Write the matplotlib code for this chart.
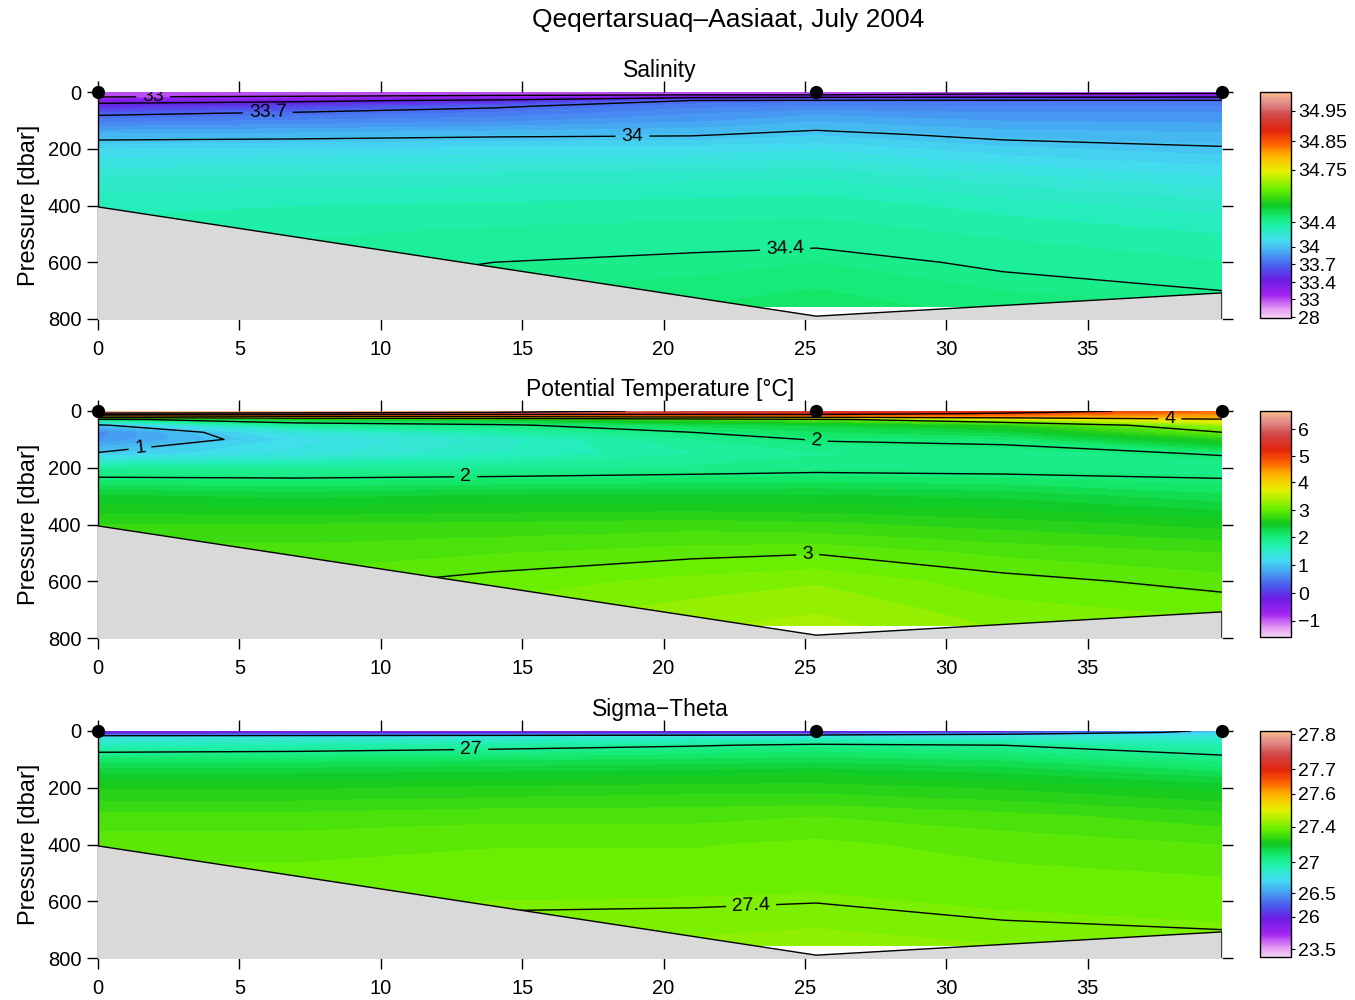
import numpy as np
import matplotlib
matplotlib.use('Agg')
import matplotlib.pyplot as plt
from matplotlib.colors import LinearSegmentedColormap, FuncNorm
from matplotlib.cm import ScalarMappable
from matplotlib.ticker import FuncFormatter

plt.rcParams['font.family'] = ['Liberation Sans', 'DejaVu Sans']

# section geometry
dist = [0, 7, 14, 21, 25.4, 32, 39.75]          # km along section
pres = [0, 5, 10, 20, 30, 50, 75, 100, 150, 200, 300, 400, 500, 600, 700, 757]
stations = [0, 25.4, 39.75]
bottom_dist = [0, 25.4, 39.75]
bottom_pres = [405, 790, 708]

# salinity, one profile per distance
sal = [
    [32.5, 32.7, 32.85, 33.05, 33.3, 33.5, 33.67, 33.77, 33.95, 34.08, 34.22, 34.3, 34.33, 34.36, 34.38, 34.40],
    [32.6, 32.75, 32.9, 33.1, 33.35, 33.58, 33.72, 33.8, 33.96, 34.09, 34.23, 34.31, 34.35, 34.38, 34.40, 34.41],
    [32.7, 32.85, 32.95, 33.2, 33.45, 33.68, 33.76, 33.83, 33.98, 34.1, 34.24, 34.32, 34.37, 34.4, 34.42, 34.43],
    [32.8, 32.9, 33.0, 33.4, 33.7, 33.78, 33.84, 33.88, 33.99, 34.1, 34.25, 34.33, 34.38, 34.41, 34.43, 34.44],
    [32.8, 32.9, 33.0, 33.45, 33.72, 33.8, 33.88, 33.93, 34.03, 34.12, 34.26, 34.34, 34.38, 34.42, 34.44, 34.45],
    [32.85, 32.95, 33.1, 33.45, 33.72, 33.8, 33.85, 33.89, 33.97, 34.05, 34.19, 34.29, 34.35, 34.39, 34.42, 34.43],
    [32.9, 33.0, 33.2, 33.45, 33.72, 33.8, 33.85, 33.88, 33.95, 34.01, 34.13, 34.24, 34.31, 34.36, 34.4, 34.42],
]

# potential temperature
temp = [
    [6.65, 6.5, 5.4, 3.5, 1.9, 0.95, 0.6, 0.65, 1.03, 1.8, 2.4, 2.7, 2.85, 2.95, 3.0, 3.05],
    [6.6, 6.3, 5.3, 3.8, 2.3, 1.8, 1.35, 1.2, 1.3, 1.8, 2.35, 2.7, 2.85, 2.95, 3.0, 3.05],
    [6.4, 6.0, 5.3, 4.0, 2.4, 1.95, 1.7, 1.5, 1.55, 1.82, 2.4, 2.72, 2.9, 3.05, 3.15, 3.2],
    [5.8, 5.6, 5.2, 4.2, 2.7, 2.2, 2.0, 1.85, 1.75, 1.88, 2.4, 2.75, 2.96, 3.15, 3.25, 3.3],
    [5.6, 5.4, 5.2, 4.3, 2.9, 2.3, 2.15, 2.02, 1.85, 1.92, 2.4, 2.72, 2.99, 3.2, 3.3, 3.35],
    [5.3, 5.1, 4.9, 4.4, 3.4, 2.6, 2.3, 2.06, 1.9, 1.9, 2.35, 2.65, 2.88, 3.05, 3.15, 3.2],
    [4.7, 4.6, 4.5, 4.3, 3.95, 3.3, 3.0, 2.6, 2.02, 1.88, 2.2, 2.55, 2.8, 2.95, 3.08, 3.15],
]

# sigma-theta
sig = [
    [25.4, 25.6, 26.1, 26.7, 26.8, 26.9, 27.0, 27.08, 27.17, 27.23, 27.31, 27.35, 27.37, 27.39, 27.4, 27.41],
    [25.5, 25.7, 26.15, 26.72, 26.82, 26.93, 27.01, 27.09, 27.17, 27.23, 27.31, 27.35, 27.37, 27.39, 27.41, 27.42],
    [25.5, 25.7, 26.2, 26.74, 26.85, 26.96, 27.03, 27.1, 27.18, 27.24, 27.32, 27.36, 27.38, 27.395, 27.41, 27.42],
    [25.6, 25.8, 26.25, 26.76, 26.88, 26.99, 27.06, 27.11, 27.19, 27.25, 27.32, 27.36, 27.38, 27.397, 27.41, 27.42],
    [25.6, 25.8, 26.3, 26.78, 26.9, 27.02, 27.08, 27.12, 27.2, 27.25, 27.33, 27.37, 27.385, 27.399, 27.415, 27.425],
    [25.9, 26.1, 26.45, 26.78, 26.88, 27.0, 27.05, 27.1, 27.17, 27.23, 27.31, 27.35, 27.37, 27.39, 27.405, 27.415],
    [26.6, 26.65, 26.72, 26.8, 26.86, 26.93, 26.98, 27.03, 27.12, 27.19, 27.28, 27.33, 27.36, 27.38, 27.4, 27.41],
]

# colour scale: value -> position along colour bar (non-linear, ODV style)
sal_cb_vals = [27.9, 28, 33, 33.4, 33.7, 34, 34.4, 34.75, 34.85, 34.95, 35.02]
sal_cb_pos = [0, 0.004, 0.082, 0.158, 0.237, 0.315, 0.424, 0.657, 0.783, 0.917, 1]
temp_cb_vals = [-1.6, -1, 0, 1, 2, 3, 4, 5, 6, 6.7]
temp_cb_pos = [0, 0.071, 0.194, 0.318, 0.442, 0.561, 0.685, 0.80, 0.919, 1]
sig_cb_vals = [22.9, 23.5, 26, 26.5, 27, 27.4, 27.6, 27.7, 27.8, 27.81]
sig_cb_pos = [0, 0.035, 0.179, 0.281, 0.42, 0.577, 0.722, 0.831, 0.985, 1]

# labelled contour levels, plus unlabelled extra ones
sal_lines = [33, 33.7, 34, 34.4]
sal_extra = [33.4]
temp_lines = [1, 2, 3, 4]
temp_extra = [5, 6]
sig_lines = [27, 27.4]
sig_extra = [26.5]

odv = LinearSegmentedColormap.from_list('odv', [
    (0.00, '#f6d0f8'), (0.04, '#e49af2'), (0.10, '#a424f0'), (0.17, '#6a1ee4'),
    (0.23, '#4a5ef0'), (0.29, '#46a6f2'), (0.34, '#44dcf0'), (0.40, '#22f0b4'),
    (0.45, '#14ea70'), (0.50, '#10c820'), (0.57, '#6cf000'), (0.65, '#e6f000'),
    (0.72, '#ffb400'), (0.77, '#ff6400'), (0.83, '#e2240e'), (0.90, '#d04848'),
    (0.95, '#e08888'), (1.00, '#f8bc8c')])

W, H = 1355, 1000
fig = plt.figure(figsize=(W / 100, H / 100), dpi=100)
fig.text(728 / W, 1 - 20 / H, 'Qeqertarsuaq\u2013Aasiaat, July 2004',
         ha='center', va='center', fontsize=19)


def minus(v, pos):
    return ('%g' % v).replace('-', '\u2212')


def section(top_px, field, cb_vals, cb_pos, lines, extra, label_at, title):
    ax = fig.add_axes([98 / W, 1 - (top_px + 227) / H, 1124 / W, 227 / H])
    cax = fig.add_axes([1260 / W, 1 - (top_px + 226) / H, 31 / W, 226 / H])

    fwd = lambda v: np.interp(v, cb_vals, cb_pos)
    inv = lambda f: np.interp(f, cb_pos, cb_vals)
    norm = FuncNorm((fwd, inv), vmin=cb_vals[0], vmax=cb_vals[-1])

    z = np.array(field).T
    ax.contourf(dist, pres, z, levels=inv(np.linspace(0, 1, 81)), cmap=odv, norm=norm)

    ax.set_xlim(0, 39.75)
    ax.set_ylim(800, 0)

    # bottom topography
    ax.fill_between(bottom_dist, bottom_pres, 800, color='#d9d9d9', zorder=3)
    ax.plot(np.r_[bottom_dist, bottom_dist[-1]], np.r_[bottom_pres, 800],
            color='k', lw=1, zorder=4)

    ax.contour(dist, pres, z, levels=extra, colors='k', linewidths=1, zorder=2)
    cs = ax.contour(dist, pres, z, levels=lines, colors='k', linewidths=1, zorder=2)
    ax.clabel(cs, inline=True, fontsize=14, fmt='%g', manual=label_at,
              inline_spacing=6)

    ax.plot(stations, np.zeros(len(stations)), 'o', color='k', ms=8.5,
            clip_on=False, zorder=10)

    for s in ['top', 'bottom', 'right']:
        ax.spines[s].set_visible(False)
    ax.spines['left'].set_linewidth(1)
    ax.set_xticks(range(0, 40, 5))
    ax.set_yticks(range(0, 801, 200))
    ax.tick_params(direction='out', length=8, width=1, top=True, right=True,
                   labelsize=14.5, pad=4)
    ax.tick_params(axis='x', pad=7)
    ax.set_ylabel('Pressure [dbar]', fontsize=17, labelpad=6)
    ax.set_title(title, fontsize=16.5, pad=11)

    cb = fig.colorbar(ScalarMappable(norm=norm, cmap=odv), cax=cax,
                      ticks=cb_vals[1:-1])
    cb.ax.yaxis.set_major_formatter(FuncFormatter(minus))
    cb.ax.tick_params(labelsize=14, length=3, pad=2)
    cb.outline.set_linewidth(1)
    return ax


section(92, sal, sal_cb_vals, sal_cb_pos, sal_lines, sal_extra,
        [(1.95, 21), (6.0, 67), (18.9, 155), (24.3, 564)], 'Salinity')
section(411, temp, temp_cb_vals, temp_cb_pos, temp_lines, temp_extra,
        [(1.5, 144), (13.0, 229), (25.4, 106), (25.1, 504), (37.9, 28)],
        'Potential Temperature [\u00b0C]')
section(731, sig, sig_cb_vals, sig_cb_pos, sig_lines, sig_extra,
        [(13.2, 63), (23.1, 624)], 'Sigma\u2212Theta')

fig.savefig('out.png', dpi=100)
